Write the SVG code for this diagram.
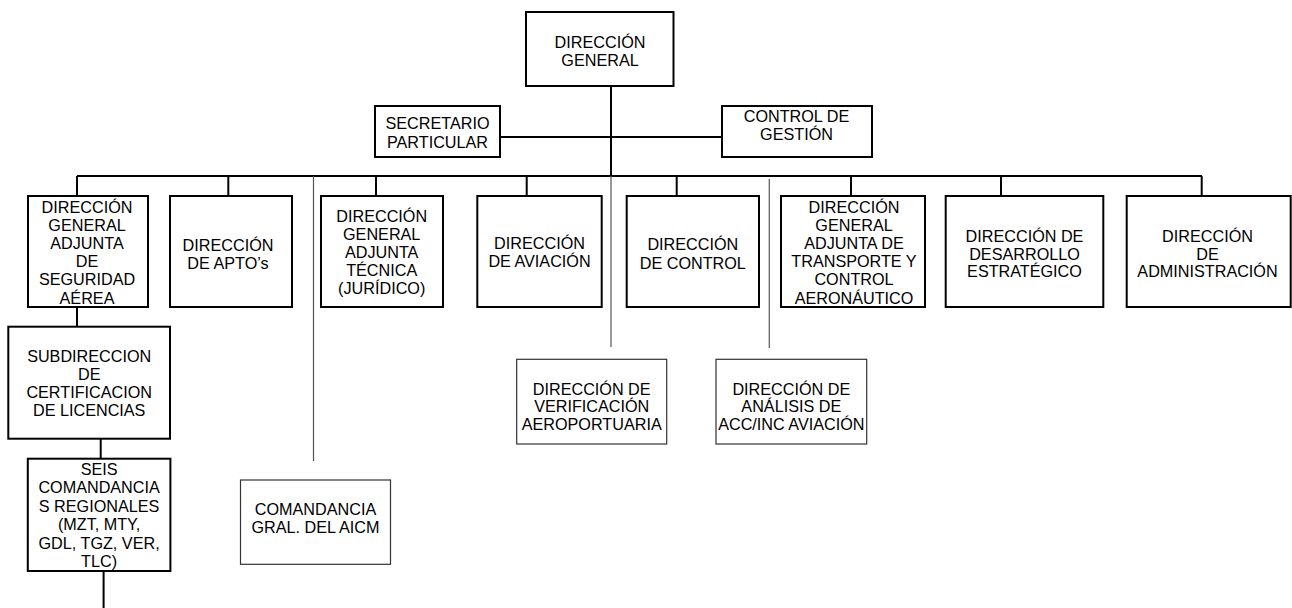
<svg xmlns="http://www.w3.org/2000/svg" width="1292" height="608" viewBox="0 0 1292 608">
<style>
.b{fill:#fff;stroke:#000;stroke-width:2}
.t{fill:#fff;stroke:#333;stroke-width:1.2}
text{font-family:"Liberation Sans",Arial,sans-serif;font-size:16.2px;fill:#000;text-anchor:middle}
.k{stroke:#000;stroke-width:2;fill:none}
.g{stroke:#555;stroke-width:1.2;fill:none}
</style>
<rect width="1292" height="608" fill="#fff"/>
<g id="connectors">
<path class="k" d="M611 86V176M500 137H722M77 176H1202M77 176V196M228.3 176V196M376 176V196M526.7 176V196M676.7 176V196M851 176V196M1001 176V196M1201.7 176V196M77 307V327M100.7 439V459M103.6 571V608"/>
<path class="g" d="M313.5 176V461M611 176V347M769.3 179V348"/>
</g>
<g id="n-dg"><rect class="b" x="526" y="12" width="147.5" height="74"/><text x="600" y="47.5">DIRECCIÓN</text><text x="600" y="66">GENERAL</text></g>
<g id="n-sec"><rect class="b" x="375" y="106" width="125" height="51"/><text x="437.5" y="128.5">SECRETARIO</text><text x="437.5" y="147.5">PARTICULAR</text></g>
<g id="n-cg"><rect class="b" x="722" y="106" width="150" height="51"/><text x="796.5" y="122">CONTROL DE</text><text x="796.5" y="140">GESTIÓN</text></g>
<g id="n-seg"><rect class="b" x="28" y="196" width="120" height="111"/><text x="87" y="212.5">DIRECCIÓN</text><text x="87" y="230.7">GENERAL</text><text x="87" y="248.9">ADJUNTA</text><text x="87" y="267.1">DE</text><text x="87" y="285.3">SEGURIDAD</text><text x="87" y="303.5">AÉREA</text></g>
<g id="n-apto"><rect class="b" x="170" y="196" width="122" height="111"/><text x="228" y="250.5">DIRECCIÓN</text><text x="228" y="268.5">DE APTO’s</text></g>
<g id="n-tec"><rect class="b" x="321" y="196" width="122" height="111"/><text x="381.7" y="221.5">DIRECCIÓN</text><text x="381.7" y="239.5">GENERAL</text><text x="381.7" y="257.5">ADJUNTA</text><text x="381.7" y="275.5">TÉCNICA</text><text x="381.7" y="293.5">(JURÍDICO)</text></g>
<g id="n-av"><rect class="b" x="477.3" y="196" width="124.4" height="111"/><text x="539.5" y="248.5">DIRECCIÓN</text><text x="539.5" y="267">DE AVIACIÓN</text></g>
<g id="n-ctl"><rect class="b" x="626.7" y="196" width="132.3" height="111"/><text x="692.8" y="250">DIRECCIÓN</text><text x="692.8" y="268.5">DE CONTROL</text></g>
<g id="n-tra"><rect class="b" x="781" y="196" width="144" height="111"/><text x="854" y="212.5">DIRECCIÓN</text><text x="854" y="230.7">GENERAL</text><text x="854" y="248.9">ADJUNTA DE</text><text x="854" y="267.1">TRANSPORTE Y</text><text x="854" y="285.3">CONTROL</text><text x="854" y="303.5">AERONÁUTICO</text></g>
<g id="n-des"><rect class="b" x="945.7" y="196" width="157.6" height="111"/><text x="1024.5" y="242">DIRECCIÓN DE</text><text x="1024.5" y="259.5">DESARROLLO</text><text x="1024.5" y="277">ESTRATÉGICO</text></g>
<g id="n-adm"><rect class="b" x="1126.7" y="196" width="164" height="111"/><text x="1207.5" y="242">DIRECCIÓN</text><text x="1207.5" y="259.5">DE</text><text x="1207.5" y="277">ADMINISTRACIÓN</text></g>
<g id="n-sub"><rect class="b" x="8.3" y="326.7" width="161.7" height="112"/><text x="89.2" y="361.5">SUBDIRECCION</text><text x="89.2" y="379.5">DE</text><text x="89.2" y="397.5">CERTIFICACION</text><text x="89.2" y="415.5">DE LICENCIAS</text></g>
<g id="n-seis"><rect class="b" x="27.8" y="458.7" width="142.6" height="112.3"/><text x="99.1" y="474.5">SEIS</text><text x="99.1" y="493">COMANDANCIA</text><text x="99.1" y="511.5">S REGIONALES</text><text x="99.1" y="530">(MZT, MTY,</text><text x="99.1" y="548.5">GDL, TGZ, VER,</text><text x="99.1" y="567">TLC)</text></g>
<g id="n-aicm"><rect class="t" x="240.5" y="480" width="150" height="84.3"/><text x="315.5" y="515">COMANDANCIA</text><text x="315.5" y="532.5">GRAL. DEL AICM</text></g>
<g id="n-ver"><rect class="t" x="516.7" y="359.3" width="150" height="84.7"/><text x="591.7" y="394.5">DIRECCIÓN DE</text><text x="591.7" y="412">VERIFICACIÓN</text><text x="591.7" y="430">AEROPORTUARIA</text></g>
<g id="n-ana"><rect class="t" x="716" y="359.3" width="150.7" height="84.7"/><text x="791.3" y="394.5">DIRECCIÓN DE</text><text x="791.3" y="412">ANÁLISIS DE</text><text x="791.3" y="430">ACC/INC AVIACIÓN</text></g>
</svg>
